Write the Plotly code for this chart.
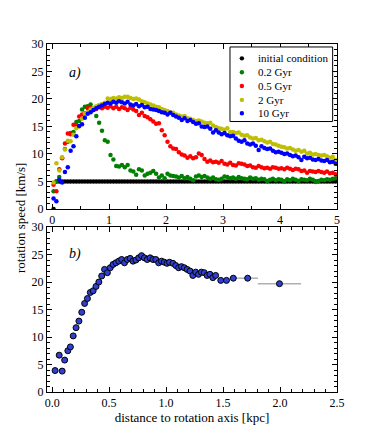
import plotly.graph_objects as go
from plotly.subplots import make_subplots

# ---------- Panel a) data ----------
x_a = [round(0.025 + 0.05 * i, 3) for i in range(100)]

y_init = [0.0] + [5.0] * 99

y_02 = [3.2, 5.0, 5.8, 9.3, 10.9, 12.2, 13.8, 14.0, 15.8, 16.0,
        18.1, 18.6, 18.7, 19.0, 18.2, 16.9, 15.7, 14.2, 12.5, 12.2,
        9.8, 9.0, 7.8, 7.7, 8.0, 7.6, 8.0, 7.0, 6.8, 6.2,
        7.2, 7.0, 6.1, 6.4, 6.6, 6.9, 6.4, 5.7, 6.1, 5.6,
        6.4, 6.1, 6.0, 5.9, 5.7, 6.0, 5.6, 5.8, 5.5, 5.2,
        5.9, 6.1, 5.8, 6.0, 5.7, 5.5, 5.7, 5.4, 5.3, 5.5,
        5.9, 5.8, 5.6, 5.7, 5.5, 5.8, 5.6, 5.5, 5.4, 5.7,
        5.5, 5.6, 5.3, 5.5, 5.4, 5.1, 5.3, 5.5, 5.2, 5.4,
        5.3, 5.0, 5.4, 5.2, 5.5, 5.3, 5.1, 5.4, 5.3, 5.2,
        5.5, 5.3, 4.9, 5.1, 5.3, 5.2, 5.4, 5.3, 5.5, 5.6]

y_05 = [4.4, 3.2, 7.2, 9.2, 11.9, 13.7, 13.6, 15.3, 15.2, 16.8,
        17.2, 17.4, 18.3, 18.4, 18.0, 18.2, 18.5, 18.3, 18.6, 18.4,
        18.7, 18.3, 18.6, 18.2, 18.5, 18.3, 18.0, 18.4, 18.1, 17.8,
        17.1, 17.5, 16.9, 16.7, 16.3, 15.9, 15.5, 15.6, 14.3, 13.4,
        12.2, 11.4, 11.0, 10.9, 10.3, 9.9, 9.7, 9.3, 9.6, 9.2,
        9.4, 10.1, 9.8, 9.1, 8.6, 8.8, 8.5, 8.6, 8.4, 8.7,
        8.2, 8.1, 8.4, 8.0, 7.9, 8.3, 8.2, 8.1, 7.8, 7.9,
        7.6, 7.5, 7.8, 7.6, 7.4, 7.5, 7.3, 7.6, 7.5, 7.3,
        7.4, 7.2, 7.5, 7.3, 7.1, 7.3, 7.2, 6.9, 7.0, 6.6,
        6.9, 6.8, 6.7, 6.9, 6.7, 6.6, 6.8, 6.5, 6.6, 6.3]

y_2 = [4.8, 8.3, 7.0, 9.4, 10.8, 12.4, 12.3, 13.5, 14.7, 15.0,
       16.4, 17.3, 17.6, 18.1, 18.4, 18.7, 18.9, 19.1, 19.3, 20.1,
       20.0, 20.2, 20.1, 20.3, 20.2, 20.4, 20.4, 20.2, 20.0, 20.1,
       19.9, 19.6, 19.4, 19.2, 19.0, 18.8, 18.6, 18.5, 18.2, 18.0,
       17.8, 17.6, 17.5, 17.2, 17.0, 16.8, 16.9, 16.5, 16.4, 16.2,
       16.0, 16.1, 15.9, 15.7, 15.6, 15.7, 15.2, 14.9, 14.7, 14.6,
       14.4, 14.7, 14.0, 14.0, 13.8, 13.9, 13.5, 13.3, 13.4, 13.0,
       12.8, 12.9, 12.5, 12.6, 12.3, 12.1, 12.2, 11.8, 11.7, 11.5,
       11.3, 11.2, 11.0, 11.1, 10.8, 10.6, 10.7, 10.4, 10.6, 10.1,
       10.2, 9.9, 10.0, 9.8, 9.7, 9.8, 9.6, 9.3, 9.5, 8.9]

y_10 = [1.9, 1.4, 5.3, 4.8, 6.7, 7.6, 10.6, 11.4, 13.2, 15.1,
        15.4, 16.6, 17.3, 17.6, 18.0, 18.3, 18.6, 18.8, 19.1, 19.3,
        19.2, 19.5, 19.3, 19.6, 19.4, 19.2, 19.5, 19.0, 18.8, 19.1,
        18.7, 18.9, 18.5, 18.6, 18.2, 18.1, 18.0, 17.8, 17.6, 17.5,
        17.2, 17.5, 17.1, 16.8, 16.6, 16.2, 16.5, 16.0, 16.2, 15.8,
        15.5, 15.6, 15.0, 14.9, 15.0, 14.6, 13.9, 14.3, 13.9, 13.6,
        13.8, 13.4, 13.2, 13.3, 12.8, 12.4, 12.2, 12.5, 11.9, 11.7,
        11.9, 11.5, 10.7, 11.4, 11.1, 10.9, 11.0, 10.6, 10.3, 10.4,
        10.2, 10.0, 10.1, 9.8, 9.6, 9.7, 9.4, 8.9, 9.5, 9.2,
        9.3, 9.0, 8.9, 9.1, 8.8, 8.7, 8.9, 8.5, 8.6, 8.2]

series_names = ["initial condition", "0.2 Gyr", "0.5 Gyr", "2 Gyr", "10 Gyr"]
series_values = [y_init, y_02, y_05, y_2, y_10]
series_colors = ["#000000", "#008000", "#ff0000", "#bfbf00", "#0000ff"]

# ---------- Panel b) data ----------
x_b = [0.026, 0.062, 0.088, 0.11, 0.138, 0.16, 0.185, 0.21, 0.235, 0.26,
       0.285, 0.31, 0.335, 0.36, 0.385, 0.41, 0.435, 0.46, 0.485, 0.51,
       0.535, 0.56, 0.585, 0.61, 0.635, 0.66, 0.685, 0.71, 0.735, 0.76,
       0.785, 0.81, 0.835, 0.86, 0.885, 0.91, 0.935, 0.96, 0.985, 1.008,
       1.03, 1.06, 1.085, 1.11, 1.135, 1.16, 1.185, 1.21, 1.235, 1.26,
       1.285, 1.31, 1.335, 1.36, 1.385, 1.41, 1.435, 1.48, 1.53, 1.59,
       1.716, 1.995]
y_b = [3.9, 6.7, 3.8, 5.8, 7.5, 8.2, 10.2, 11.7, 12.9, 14.5,
       16.1, 17.0, 18.1, 18.4, 19.2, 20.0, 21.1, 22.3, 21.7, 22.6,
       23.2, 23.5, 23.8, 24.1, 23.5, 24.1, 24.3, 23.8, 24.0, 24.4,
       24.8, 24.4, 24.1, 24.4, 24.1, 24.1, 23.5, 23.8, 23.6, 23.4,
       23.6, 23.4, 23.0, 22.6, 22.8, 22.6, 22.3, 22.0, 21.2, 21.8,
       21.4, 21.8, 21.7, 21.2, 21.4, 20.8, 21.2, 20.3, 20.3, 20.7,
       20.7, 19.7]
xerr_b = [0.0125] * 57 + [0.025, 0.03, 0.035, 0.09, 0.19]

xticks_a = [0, 1, 2, 3, 4, 5]
xticks_b = [0.0, 0.5, 1.0, 1.5, 2.0, 2.5]
yticks = [0, 5, 10, 15, 20, 25, 30]

FONT = "'Liberation Serif', 'DejaVu Serif', serif"

fig = make_subplots(rows=2, cols=1, vertical_spacing=0.052)

for name, vals, col in zip(series_names, series_values, series_colors):
    fig.add_trace(go.Scatter(x=x_a, y=vals, mode="markers", name=name,
                             marker=dict(color=col, size=4.5, line=dict(width=0)),
                             showlegend=False), row=1, col=1)

fig.add_trace(go.Scatter(x=x_b, y=y_b, mode="markers",
                         error_x=dict(type="data", array=xerr_b, color="#b0b0b0",
                                      thickness=1.5, width=0),
                         marker=dict(color="#2f3fcf", size=6,
                                     line=dict(color="black", width=1)),
                         showlegend=False), row=2, col=1)

axis_common = dict(showline=True, linecolor="black", linewidth=1, mirror="ticks",
                   ticks="inside", ticklen=5, tickwidth=1, tickcolor="black",
                   showgrid=False, zeroline=False,
                   tickfont=dict(family=FONT, size=12, color="black"))

fig.update_xaxes(axis_common)
fig.update_yaxes(axis_common)

fig.update_xaxes(range=[-0.09, 5.0], tickvals=xticks_a, ticktext=[str(v) for v in xticks_a],
                 minor=dict(ticks="inside", dtick=0.5, ticklen=3, tickcolor="black"),
                 row=1, col=1)
fig.update_xaxes(range=[-0.045, 2.5], tickvals=xticks_b,
                 ticktext=["%.1f" % v for v in xticks_b],
                 minor=dict(ticks="inside", dtick=0.1, ticklen=3, tickcolor="black"),
                 title=dict(text="distance to rotation axis [kpc]",
                            font=dict(family=FONT, size=13, color="black"), standoff=0),
                 row=2, col=1)
for r in (1, 2):
    fig.update_yaxes(range=[0, 30], tickvals=yticks,
                     minor=dict(ticks="inside", dtick=1, ticklen=3, tickcolor="black"),
                     row=r, col=1)

fig.update_layout(
    width=374, height=436,
    margin=dict(l=39, r=45, t=36, b=52),
    paper_bgcolor="white", plot_bgcolor="white",
    font=dict(family=FONT, size=12, color="black"),
)

# y title spanning both panels
fig.add_annotation(text="rotation speed [km/s]", xref="paper", yref="paper",
                   x=-0.093, y=0.5, xanchor="center", yanchor="middle",
                   textangle=-90, showarrow=False,
                   font=dict(family=FONT, size=13, color="black"))

# panel labels
fig.add_annotation(text="<i>a)</i>", xref="x domain", yref="y domain", x=0.07, y=0.885,
                   showarrow=False, font=dict(family=FONT, size=14, color="black"))
fig.add_annotation(text="<i>b)</i>", xref="x2 domain", yref="y2 domain", x=0.07, y=0.9,
                   showarrow=False, font=dict(family=FONT, size=14, color="black"))

# manual legend in panel a
fig.add_shape(type="rect", xref="x domain", yref="y domain", x0=0.631, x1=0.985,
              y0=0.53, y1=0.982, line=dict(color="black", width=1), fillcolor="white",
              layer="above")
leg_y = [0.913, 0.829, 0.745, 0.661, 0.580]
for name, col, yy in zip(series_names, series_colors, leg_y):
    fig.add_shape(type="circle", xref="x domain", yref="y domain",
                  xsizemode="pixel", ysizemode="pixel", xanchor=0.672, yanchor=yy,
                  x0=-2.2, x1=2.2, y0=-2.2, y1=2.2,
                  fillcolor=col, line=dict(width=0), layer="above")
    fig.add_annotation(text=name, xref="x domain", yref="y domain", x=0.72, y=yy,
                       xanchor="left", yanchor="middle", showarrow=False,
                       font=dict(family=FONT, size=11, color="black"))

fig.write_html("out.html")
